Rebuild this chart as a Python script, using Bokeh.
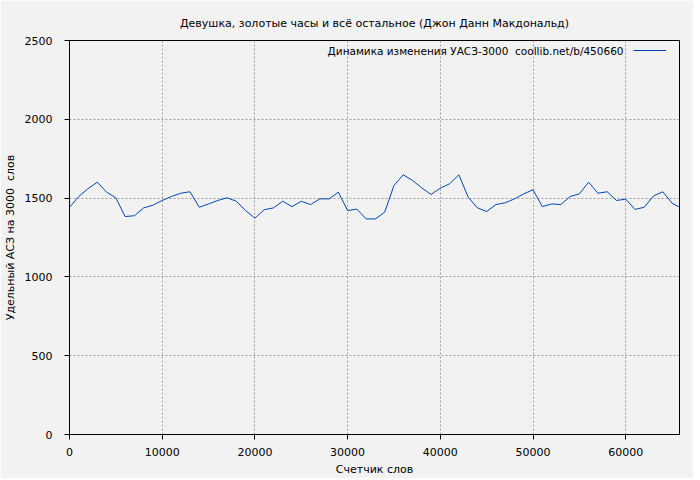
from bokeh.plotting import figure
from bokeh.embed import file_html
from bokeh.resources import INLINE
from bokeh.models import Range1d, FixedTicker, Label, Legend, LegendItem, ColumnDataSource

TITLE = "Девушка, золотые часы и всё остальное (Джон Данн Макдональд)"
X_LABEL = "Счетчик слов"
Y_LABEL = "Удельный АСЗ на 3000\u00a0 слов"
SERIES_NAME = "Динамика изменения УАСЗ-3000\u00a0 coollib.net/b/450660"

words = [0, 1000, 2000, 3000, 4000, 5000, 6000, 7000, 8000, 9000,
         10000, 11000, 12000, 13000, 14000, 15000, 16000, 17000, 18000, 19000,
         20000, 21000, 22000, 23000, 24000, 25000, 26000, 27000, 28000, 29000,
         30000, 31000, 32000, 33000, 34000, 35000, 36000, 37000, 38000, 39000,
         40000, 41000, 42000, 43000, 44000, 45000, 46000, 47000, 48000, 49000,
         50000, 51000, 52000, 53000, 54000, 55000, 56000, 57000, 58000, 59000,
         60000, 61000, 62000, 63000, 64000, 65000, 65800]
uasz = [1442, 1510, 1560, 1601, 1538, 1502, 1383, 1388, 1438, 1455,
        1485, 1510, 1531, 1540, 1442, 1463, 1485, 1502, 1480, 1421,
        1373, 1426, 1438, 1480, 1446, 1480, 1459, 1495, 1495, 1538,
        1421, 1430, 1368, 1368, 1411, 1580, 1648, 1612, 1565, 1523,
        1563, 1591, 1648, 1506, 1438, 1415, 1459, 1470, 1495, 1527,
        1553, 1446, 1463, 1459, 1510, 1527, 1601, 1531, 1540, 1485,
        1493, 1428, 1442, 1514, 1540, 1468, 1442]
x_ticks = [0, 10000, 20000, 30000, 40000, 50000, 60000]
y_ticks = [0, 500, 1000, 1500, 2000, 2500]

BG = "#f2f2f2"
FONT = "DejaVu Sans"

p = figure(frame_width=610, frame_height=394, output_backend="svg", toolbar_location=None,
           x_range=Range1d(0, 65800), y_range=Range1d(0, 2500),
           min_border_left=60, min_border_right=14, min_border_top=40, min_border_bottom=30,
           background_fill_color=BG, border_fill_color=BG)

p.title.text = TITLE
p.title.align = "center"
p.title.text_font = FONT
p.title.text_font_size = "11px"
p.title.text_font_style = "normal"
p.title.text_color = "#000000"
p.title.offset = 0
p.title.standoff = 22

p.outline_line_color = "#000000"
p.outline_line_width = 1

for ax in (p.xaxis[0], p.yaxis[0]):
    ax.axis_line_color = "#000000"
    ax.major_tick_line_color = "#000000"
    ax.major_tick_out = 5
    ax.major_tick_in = 0
    ax.minor_tick_line_color = None
    ax.major_label_text_font = FONT
    ax.major_label_text_font_size = "11px"
    ax.major_label_text_color = "#000000"
    ax.axis_label_text_font = FONT
    ax.axis_label_text_font_size = "11px"
    ax.axis_label_text_font_style = "normal"
    ax.axis_label_text_color = "#000000"

p.xaxis[0].ticker = FixedTicker(ticks=x_ticks)
p.yaxis[0].ticker = FixedTicker(ticks=y_ticks)
p.xaxis[0].axis_label = X_LABEL
p.yaxis[0].axis_label = Y_LABEL
p.xaxis[0].major_label_standoff = 8
p.yaxis[0].major_label_standoff = 12
p.xaxis[0].axis_label_standoff = 4
p.yaxis[0].axis_label_standoff = 5

p.xgrid.grid_line_color = "#a0a0a0"
p.ygrid.grid_line_color = "#a0a0a0"
p.xgrid.grid_line_dash = "2 2"
p.ygrid.grid_line_dash = "2 2"

src = ColumnDataSource(dict(x=words, y=uasz))
r = p.line("x", "y", source=src, line_color="#0047b3", line_width=1)

legend = Legend(items=[LegendItem(label=" ", renderers=[r])], location=(564, 380),
                background_fill_alpha=0, border_line_alpha=0, margin=0, padding=0,
                glyph_width=33, glyph_height=8, label_standoff=0, spacing=0,
                label_text_font=FONT, label_text_font_size="11px")
p.add_layout(legend)

lab = Label(x=554, y=384, x_units="screen", y_units="screen", text=SERIES_NAME,
            text_align="right", text_baseline="middle", text_font=FONT,
            text_font_size="10.5px", text_color="#000000")
p.add_layout(lab)

open("out.html", "w").write(file_html(p, INLINE))
